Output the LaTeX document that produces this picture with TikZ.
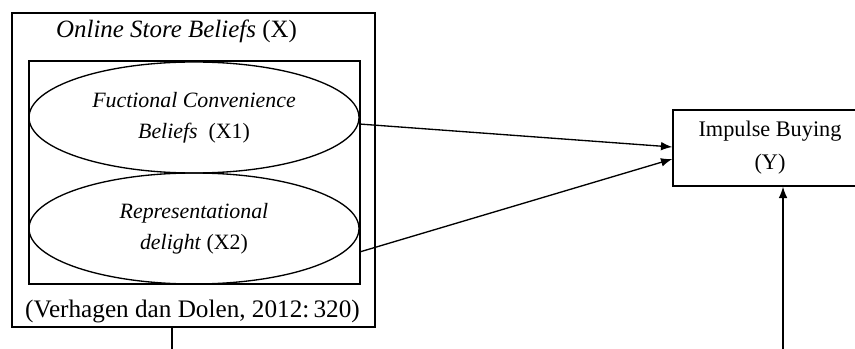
\documentclass[tikz,border=0pt]{standalone}
\usepackage{fontspec}
\setmainfont{Liberation Serif}
\usetikzlibrary{arrows.meta}
\usetikzlibrary{positioning}
\usetikzlibrary{shapes.geometric}

\tikzset{
    frame/.style={rectangle, draw, inner sep=0pt},
    oval/.style={ellipse, draw, inner sep=0pt, minimum width=247.5pt, minimum height=83.25pt,
        align=center, font=\fontsize{16.4}{23}\selectfont},
    link/.style={-{Latex[length=8.5pt,width=6.5pt]}},
}

\begin{document}
\begin{tikzpicture}[x=0.75pt, y=-0.75pt, line width=1pt]
    \useasboundingbox (0, 0) rectangle (855, 349);
    \clip (0, 0) rectangle (855, 349);

    \draw (193.5, 170) node[frame, minimum width=272.25pt, minimum height=235.5pt] (outer) {};
    \draw (176.5, 38) node[anchor=base, font=\fontsize{18.7}{22}\selectfont] (title) {\textit{Online Store Beliefs} (X)};
    \draw (194.5, 172.5) node[frame, minimum width=248.25pt, minimum height=167.25pt] (inner) {};
    \draw (194, 117.5) node[oval] (fcb) {\textit{Fuctional Convenience}\\\textit{Beliefs}\ \ (X1)};
    \draw (194, 228.5) node[oval] (rd) {\textit{Representational}\\\textit{delight} (X2)};
    \draw (192.5, 317) node[anchor=base, font=\fontsize{18.9}{22}\selectfont] (source) {(Verhagen dan Dolen, 2012:\,320)};

    \draw (770, 148) node[frame, minimum width=145.5pt, minimum height=57pt, align=center,
        font=\fontsize{16.7}{24.75}\selectfont] (buy) {Impulse Buying\\(Y)};

    \coordinate (xfoot) at (172, 349);
    \coordinate (yfoot) at (783, 349);

    \draw[link] ([yshift=-4.9pt]fcb.east) -- ([yshift=0.75pt]buy.west);
    \draw[link] ([yshift=-17.6pt]rd.east) -- ([yshift=-8.25pt]buy.west);
    \draw (outer.south -| xfoot) -- (xfoot);
    \draw[link] (yfoot) -- (buy.south -| yfoot);

\end{tikzpicture}
\end{document}
